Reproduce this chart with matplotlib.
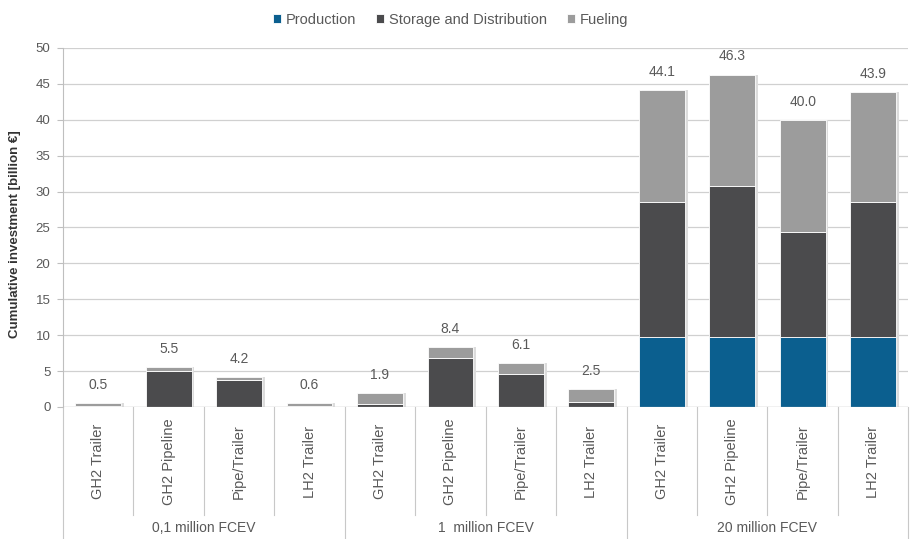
import numpy as np
import matplotlib
matplotlib.use("Agg")
import matplotlib.pyplot as plt

plt.rcParams["font.family"] = ["Liberation Sans", "DejaVu Sans"]

# ---- data (billion EUR) ----
groups = ["0,1 million FCEV", "1  million FCEV", "20 million FCEV"]
pathways = ["GH2 Trailer", "GH2 Pipeline", "Pipe/Trailer", "LH2 Trailer"]
production = [0.0, 0.0, 0.0, 0.0, 0.0, 0.0, 0.0, 0.0, 9.7, 9.7, 9.7, 9.7]
storage = [0.2, 5.0, 3.8, 0.2, 0.4, 6.8, 4.6, 0.7, 18.8, 21.1, 14.6, 18.8]
fueling = [0.3, 0.5, 0.4, 0.4, 1.5, 1.6, 1.5, 1.8, 15.6, 15.5, 15.7, 15.4]
totals = [0.5, 5.5, 4.2, 0.6, 1.9, 8.4, 6.1, 2.5, 44.1, 46.3, 40.0, 43.9]

C_PROD = "#0b5f8f"
C_STOR = "#4b4b4d"
C_FUEL = "#9c9c9c"
TXT = "#595959"

fig = plt.figure(figsize=(9.1, 5.39), dpi=100)
ax = fig.add_axes([0.0692, 0.245, 0.929, 0.666])

x = np.arange(len(totals))
w = 0.65
prod = np.array(production)
stor = np.array(storage)
fuel = np.array(fueling)

# faint shadow on the right side of the bars
ax.bar(x + 0.04, prod + stor + fuel, w, color="#dcdcdc", zorder=1)
ax.bar(x, prod, w, color=C_PROD, label="Production", zorder=2,
       edgecolor="white", linewidth=0.6)
ax.bar(x, stor, w, bottom=prod, color=C_STOR, label="Storage and Distribution",
       zorder=2, edgecolor="white", linewidth=0.6)
ax.bar(x, fuel, w, bottom=prod + stor, color=C_FUEL, label="Fueling",
       zorder=2, edgecolor="white", linewidth=0.6)

for xi, tot in zip(x, totals):
    ax.annotate(f"{tot:.1f}", (xi, tot), xytext=(0, 8), textcoords="offset points",
                ha="center", va="bottom", fontsize=10, color=TXT)

ax.set_ylim(0, 50)
ax.set_yticks(np.arange(0, 51, 5))
ax.set_xlim(-0.5, len(totals) - 0.5)
ax.yaxis.grid(True, color="#d0d0d0", lw=0.9)
ax.set_axisbelow(True)
for s in ["top", "right", "bottom"]:
    ax.spines[s].set_visible(False)
ax.spines["left"].set_color("#bfbfbf")
ax.tick_params(axis="y", labelsize=9.5, colors=TXT, length=4, color="#bfbfbf", pad=5)
ax.tick_params(axis="x", bottom=False, labelbottom=False)
fig.text(15 / 910, 0.566, "Cumulative investment [billion €]", rotation=90,
         ha="center", va="center", fontsize=9.5, fontweight="bold", color="#333333")

# baseline
ax.axhline(0, color="#bfbfbf", lw=0.9, zorder=3)

# two-level category axis
tr = ax.get_xaxis_transform()
labels = pathways * len(groups)
for xi, lab in zip(x, labels):
    ax.text(xi, -0.153, lab, transform=tr, rotation=90, ha="center", va="center",
            fontsize=10.5, color=TXT)
for i in range(len(totals) + 1):
    edge = i - 0.5
    low = -0.37 if i % len(pathways) == 0 else -0.30
    ax.plot([edge, edge], [0, low], transform=tr, color="#c8c8c8", lw=0.8,
            clip_on=False)
for gi, g in enumerate(groups):
    c = gi * len(pathways) + (len(pathways) - 1) / 2
    ax.text(c, -0.337, g, transform=tr, ha="center", va="center",
            fontsize=10, color=TXT)

handles, labs = ax.get_legend_handles_labels()
fig.legend(handles[:3], labs[:3], loc="center", bbox_to_anchor=(0.495, 0.963),
           ncol=3, frameon=False, fontsize=10.5, handlelength=0.55, handleheight=0.55,
           handletextpad=0.3, columnspacing=1.4, labelcolor=TXT)

fig.savefig("out.png", dpi=100)
